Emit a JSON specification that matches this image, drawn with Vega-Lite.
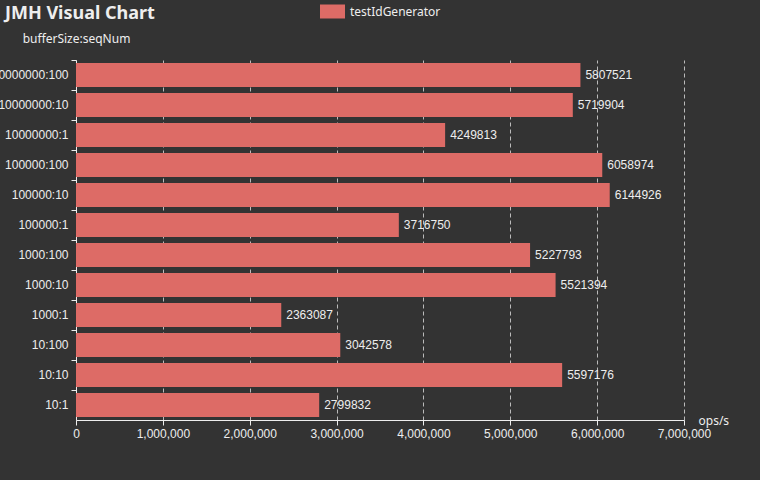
{
  "$schema": "https://vega.github.io/schema/vega-lite/v6.json",
  "width": 608,
  "height": 360,
  "autosize": {"type": "none"},
  "padding": {"left": 76, "top": 60, "right": 76, "bottom": 60},
  "background": "#333333",
  "config": {
    "font": "Liberation Sans",
    "view": {"stroke": null}
  },
  "title": {
    "text": "JMH Visual Chart",
    "anchor": "start",
    "frame": "group",
    "fontSize": 18,
    "fontWeight": "bold",
    "color": "#eeeeee",
    "font": "Noto Sans",
    "baseline": "top",
    "dx": -71,
    "dy": 28
  },
  "data": {
    "values": [
      {"key": "10000000:100", "ops": 5807521, "series": "testIdGenerator"},
      {"key": "10000000:10", "ops": 5719904, "series": "testIdGenerator"},
      {"key": "10000000:1", "ops": 4249813, "series": "testIdGenerator"},
      {"key": "100000:100", "ops": 6058974, "series": "testIdGenerator"},
      {"key": "100000:10", "ops": 6144926, "series": "testIdGenerator"},
      {"key": "100000:1", "ops": 3716750, "series": "testIdGenerator"},
      {"key": "1000:100", "ops": 5227793, "series": "testIdGenerator"},
      {"key": "1000:10", "ops": 5521394, "series": "testIdGenerator"},
      {"key": "1000:1", "ops": 2363087, "series": "testIdGenerator"},
      {"key": "10:100", "ops": 3042578, "series": "testIdGenerator"},
      {"key": "10:10", "ops": 5597176, "series": "testIdGenerator"},
      {"key": "10:1", "ops": 2799832, "series": "testIdGenerator"}
    ]
  },
  "encoding": {
    "y": {
      "field": "key",
      "type": "nominal",
      "sort": null,
      "scale": {"paddingInner": 0, "paddingOuter": 0},
      "axis": {
        "bandPosition": 0,
        "domainColor": "#eeeeee",
        "tickColor": "#eeeeee",
        "tickSize": 5,
        "labelPadding": 3,
        "labelColor": "#eeeeee",
        "labelFontSize": 12,
        "labelFont": "Liberation Sans",
        "grid": false,
        "title": "bufferSize:seqNum",
        "titleAngle": 0,
        "titleX": 0,
        "titleY": -22,
        "titleAlign": "center",
        "titleBaseline": "middle",
        "titleColor": "#eeeeee",
        "titleFontSize": 12,
        "titleFontWeight": "normal",
        "titleFont": "Noto Sans"
      }
    },
    "x": {
      "field": "ops",
      "type": "quantitative",
      "scale": {"domain": [0, 7000000], "nice": false},
      "axis": {
        "values": [0, 1000000, 2000000, 3000000, 4000000, 5000000, 6000000, 7000000],
        "format": ",d",
        "domainColor": "#eeeeee",
        "tickColor": "#eeeeee",
        "tickSize": 5,
        "labelPadding": 3,
        "labelColor": "#eeeeee",
        "labelFontSize": 12,
        "labelFont": "Liberation Sans",
        "labelOverlap": false,
        "labelFlush": false,
        "grid": true,
        "gridColor": "#bbbbbb",
        "gridDash": [4, 3],
        "gridWidth": 1,
        "title": "ops/s",
        "titleX": 622,
        "titleY": 0,
        "titleAlign": "left",
        "titleBaseline": "middle",
        "titleColor": "#eeeeee",
        "titleFontSize": 12,
        "titleFontWeight": "normal",
        "titleFont": "Noto Sans"
      }
    }
  },
  "layer": [
    {
      "mark": {"type": "bar", "height": {"band": 0.8}},
      "encoding": {
        "color": {
          "field": "series",
          "type": "nominal",
          "scale": {"range": ["#dd6b66"]},
          "legend": {
            "title": null,
            "orient": "none",
            "legendX": 244,
            "legendY": -61,
            "padding": 0,
            "symbolType": "M-1,-0.56L1,-0.56L1,0.56L-1,0.56Z",
            "symbolSize": 625,
            "symbolStrokeWidth": 0,
            "symbolOpacity": 1,
            "labelColor": "#eeeeee",
            "labelFontSize": 12,
            "labelFont": "Noto Sans",
            "labelOffset": 5
          }
        }
      }
    },
    {
      "mark": {"type": "text", "align": "left", "baseline": "middle", "dx": 5, "fontSize": 12, "color": "#eeeeee", "font": "Liberation Sans"},
      "encoding": {
        "text": {"field": "ops", "type": "quantitative", "format": "d"}
      }
    }
  ]
}
